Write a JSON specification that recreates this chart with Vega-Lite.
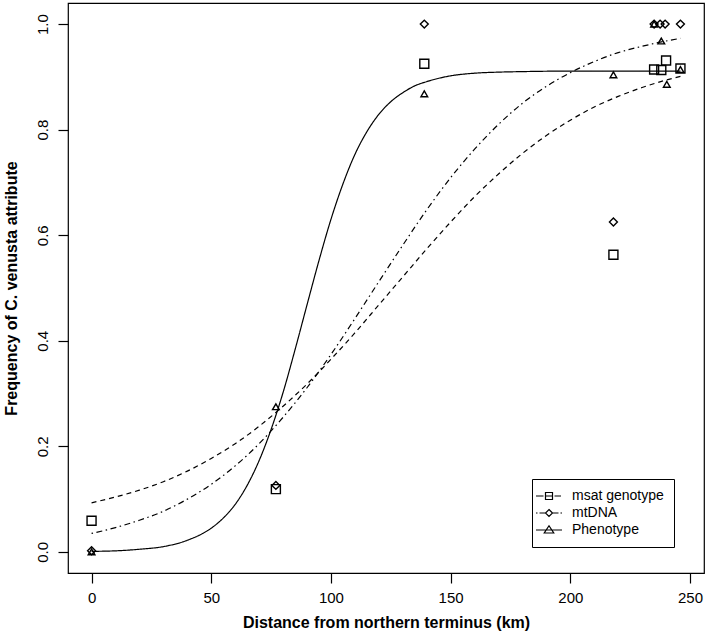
{
  "$schema": "https://vega.github.io/schema/vega-lite/v6.json",
  "width": 636,
  "height": 570,
  "autosize": {"type": "none"},
  "padding": {"top": 3, "left": 68, "right": 5, "bottom": 66},
  "background": "white",
  "config": {
    "font": "Liberation Sans",
    "view": {"stroke": "black", "strokeWidth": 1.2},
    "axis": {
      "domain": false, "grid": false, "tickColor": "black", "tickSize": 10, "tickWidth": 1.2,
      "labelColor": "black", "labelFont": "Liberation Sans", "labelFontSize": 15,
      "titleColor": "black", "titleFont": "Liberation Sans", "titleFontSize": 16, "titleFontWeight": "bold"
    },
    "legend": {
      "orient": "none", "legendX": 464, "legendY": 476,
      "strokeColor": "black", "padding": 10, "labelFontSize": 14, "labelFont": "Liberation Sans",
      "labelColor": "black", "labelOffset": 16, "rowPadding": 3,
      "symbolStrokeWidth": 1.2, "symbolStrokeColor": "black", "symbolFillColor": "transparent"
    }
  },
  "datasets": {
    "pts": [
      {"series": "msat genotype", "x": 0, "y": 0.059},
      {"series": "msat genotype", "x": 77, "y": 0.119},
      {"series": "msat genotype", "x": 139, "y": 0.925},
      {"series": "msat genotype", "x": 218, "y": 0.563},
      {"series": "msat genotype", "x": 235, "y": 0.914},
      {"series": "msat genotype", "x": 238, "y": 0.913},
      {"series": "msat genotype", "x": 240, "y": 0.931},
      {"series": "msat genotype", "x": 246, "y": 0.916},
      {"series": "mtDNA", "x": 0, "y": 0.002},
      {"series": "mtDNA", "x": 77, "y": 0.126},
      {"series": "mtDNA", "x": 139, "y": 1.0},
      {"series": "mtDNA", "x": 218, "y": 0.625},
      {"series": "mtDNA", "x": 235, "y": 1.0},
      {"series": "mtDNA", "x": 237.5, "y": 1.0},
      {"series": "mtDNA", "x": 239.6, "y": 1.0},
      {"series": "mtDNA", "x": 246, "y": 1.0},
      {"series": "Phenotype", "x": 0, "y": 0.0},
      {"series": "Phenotype", "x": 77, "y": 0.275},
      {"series": "Phenotype", "x": 139, "y": 0.868},
      {"series": "Phenotype", "x": 218, "y": 0.904},
      {"series": "Phenotype", "x": 235, "y": 1.0},
      {"series": "Phenotype", "x": 238, "y": 0.968},
      {"series": "Phenotype", "x": 240.3, "y": 0.886},
      {"series": "Phenotype", "x": 246, "y": 0.914}
    ],
    "curves": [
      {"series": "Phenotype", "x": 0, "y": 0.001},
      {"series": "Phenotype", "x": 10, "y": 0.002},
      {"series": "Phenotype", "x": 20, "y": 0.005},
      {"series": "Phenotype", "x": 30, "y": 0.010},
      {"series": "Phenotype", "x": 40, "y": 0.022},
      {"series": "Phenotype", "x": 50, "y": 0.045},
      {"series": "Phenotype", "x": 55, "y": 0.064},
      {"series": "Phenotype", "x": 60, "y": 0.090},
      {"series": "Phenotype", "x": 65, "y": 0.126},
      {"series": "Phenotype", "x": 70, "y": 0.173},
      {"series": "Phenotype", "x": 75, "y": 0.232},
      {"series": "Phenotype", "x": 80, "y": 0.302},
      {"series": "Phenotype", "x": 85, "y": 0.383},
      {"series": "Phenotype", "x": 90, "y": 0.468},
      {"series": "Phenotype", "x": 95, "y": 0.552},
      {"series": "Phenotype", "x": 100, "y": 0.630},
      {"series": "Phenotype", "x": 105, "y": 0.697},
      {"series": "Phenotype", "x": 110, "y": 0.753},
      {"series": "Phenotype", "x": 115, "y": 0.796},
      {"series": "Phenotype", "x": 120, "y": 0.829},
      {"series": "Phenotype", "x": 125, "y": 0.853},
      {"series": "Phenotype", "x": 130, "y": 0.870},
      {"series": "Phenotype", "x": 135, "y": 0.883},
      {"series": "Phenotype", "x": 140, "y": 0.891},
      {"series": "Phenotype", "x": 150, "y": 0.902},
      {"series": "Phenotype", "x": 160, "y": 0.907},
      {"series": "Phenotype", "x": 170, "y": 0.909},
      {"series": "Phenotype", "x": 180, "y": 0.910},
      {"series": "Phenotype", "x": 200, "y": 0.911},
      {"series": "Phenotype", "x": 220, "y": 0.911},
      {"series": "Phenotype", "x": 246, "y": 0.911},
      {"series": "mtDNA", "x": 0, "y": 0.035},
      {"series": "mtDNA", "x": 10, "y": 0.046},
      {"series": "mtDNA", "x": 20, "y": 0.060},
      {"series": "mtDNA", "x": 30, "y": 0.077},
      {"series": "mtDNA", "x": 40, "y": 0.100},
      {"series": "mtDNA", "x": 50, "y": 0.128},
      {"series": "mtDNA", "x": 60, "y": 0.163},
      {"series": "mtDNA", "x": 70, "y": 0.205},
      {"series": "mtDNA", "x": 80, "y": 0.255},
      {"series": "mtDNA", "x": 90, "y": 0.311},
      {"series": "mtDNA", "x": 100, "y": 0.374},
      {"series": "mtDNA", "x": 110, "y": 0.442},
      {"series": "mtDNA", "x": 120, "y": 0.512},
      {"series": "mtDNA", "x": 130, "y": 0.581},
      {"series": "mtDNA", "x": 140, "y": 0.648},
      {"series": "mtDNA", "x": 150, "y": 0.709},
      {"series": "mtDNA", "x": 160, "y": 0.763},
      {"series": "mtDNA", "x": 170, "y": 0.810},
      {"series": "mtDNA", "x": 180, "y": 0.850},
      {"series": "mtDNA", "x": 190, "y": 0.882},
      {"series": "mtDNA", "x": 200, "y": 0.908},
      {"series": "mtDNA", "x": 210, "y": 0.929},
      {"series": "mtDNA", "x": 220, "y": 0.946},
      {"series": "mtDNA", "x": 230, "y": 0.958},
      {"series": "mtDNA", "x": 240, "y": 0.968},
      {"series": "mtDNA", "x": 246, "y": 0.973},
      {"series": "msat genotype", "x": 0, "y": 0.093},
      {"series": "msat genotype", "x": 10, "y": 0.104},
      {"series": "msat genotype", "x": 20, "y": 0.117},
      {"series": "msat genotype", "x": 30, "y": 0.133},
      {"series": "msat genotype", "x": 40, "y": 0.153},
      {"series": "msat genotype", "x": 50, "y": 0.177},
      {"series": "msat genotype", "x": 60, "y": 0.205},
      {"series": "msat genotype", "x": 70, "y": 0.238},
      {"series": "msat genotype", "x": 80, "y": 0.276},
      {"series": "msat genotype", "x": 90, "y": 0.318},
      {"series": "msat genotype", "x": 100, "y": 0.365},
      {"series": "msat genotype", "x": 110, "y": 0.415},
      {"series": "msat genotype", "x": 120, "y": 0.468},
      {"series": "msat genotype", "x": 130, "y": 0.521},
      {"series": "msat genotype", "x": 140, "y": 0.574},
      {"series": "msat genotype", "x": 150, "y": 0.625},
      {"series": "msat genotype", "x": 160, "y": 0.673},
      {"series": "msat genotype", "x": 170, "y": 0.716},
      {"series": "msat genotype", "x": 180, "y": 0.755},
      {"series": "msat genotype", "x": 190, "y": 0.789},
      {"series": "msat genotype", "x": 200, "y": 0.818},
      {"series": "msat genotype", "x": 210, "y": 0.843},
      {"series": "msat genotype", "x": 220, "y": 0.863},
      {"series": "msat genotype", "x": 230, "y": 0.880},
      {"series": "msat genotype", "x": 240, "y": 0.894},
      {"series": "msat genotype", "x": 246, "y": 0.901}
    ]
  },
  "encoding": {
    "x": {
      "field": "x", "type": "quantitative",
      "scale": {"domain": [-9.84, 255.84], "nice": false, "zero": false},
      "axis": {"values": [0, 50, 100, 150, 200, 250], "title": "Distance from northern terminus (km)", "labelPadding": 7, "titlePadding": 9}
    },
    "y": {
      "field": "y", "type": "quantitative",
      "scale": {"domain": [-0.04, 1.04], "nice": false, "zero": false},
      "axis": {"values": [0, 0.2, 0.4, 0.6, 0.8, 1.0], "format": ".1f", "labelAngle": 270, "title": "Frequency of C. venusta attribute", "labelPadding": 8, "titlePadding": 16}
    }
  },
  "layer": [
    {
      "data": {"name": "curves"},
      "mark": {"type": "line", "color": "black", "strokeWidth": 1.2, "interpolate": "monotone"},
      "encoding": {
        "detail": {"field": "series"},
        "strokeDash": {
          "field": "series", "type": "nominal", "legend": null,
          "scale": {"domain": ["msat genotype", "mtDNA", "Phenotype"], "range": [[5, 4], [1.5, 3.5, 6, 3.5], [1, 0]]}
        }
      }
    },
    {
      "data": {"name": "pts"},
      "mark": {"type": "point", "filled": false, "color": "black", "strokeWidth": 1.4, "opacity": 1},
      "encoding": {
        "shape": {
          "field": "series", "type": "nominal", "legend": null,
          "scale": {"domain": ["msat genotype", "mtDNA", "Phenotype"], "range": ["square", "diamond", "triangle-up"]}
        },
        "size": {
          "field": "series", "type": "nominal", "legend": null,
          "scale": {"domain": ["msat genotype", "mtDNA", "Phenotype"], "range": [81, 45, 150]}
        }
      }
    },
    {
      "data": {"name": "pts"},
      "transform": [{"filter": "false"}],
      "mark": {"type": "point", "filled": false, "color": "black", "strokeWidth": 1.2, "size": 100},
      "encoding": {
        "shape": {
          "field": "series", "type": "nominal",
          "scale": {
            "domain": ["msat genotype", "mtDNA", "Phenotype"],
            "range": [
              "M-2.6,0H-1.1M1.1,0H2.4M-0.7,0H0.7M-0.7,-0.7H0.7V0.7H-0.7Z",
              "M-2.6,0H-2.3M-1.9,0H-0.7M0.7,0H1.9M2.3,0H2.6M0,-0.7L0.7,0L0,0.7L-0.7,0Z",
              "M-2.6,0H2.6M0,-0.85L0.95,0.6H-0.95Z"
            ]
          },
          "legend": {"title": null, "symbolOpacity": 1}
        }
      }
    }
  ],
  "resolve": {"scale": {"shape": "independent", "size": "independent"}}
}
